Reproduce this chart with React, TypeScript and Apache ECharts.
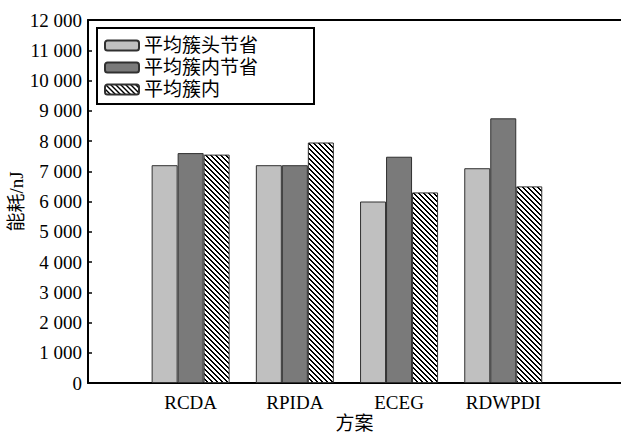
import React, { useEffect, useRef } from "react";
import * as echarts from "echarts";

const categories = ["RCDA", "RPIDA", "ECEG", "RDWPDI"];
const positions = [1, 2, 3, 4];
const seriesNames = ["平均簇头节省", "平均簇内节省", "平均簇内"];
const headSaving = [7200, 7200, 6000, 7100];
const innerSaving = [7600, 7200, 7480, 8750];
const innerAvg = [7550, 7950, 6300, 6500];

function makeHatch(): string {
  const c = document.createElement("canvas");
  const s = 5;
  c.width = s;
  c.height = s;
  const ctx = c.getContext("2d")!;
  const img = ctx.createImageData(s, s);
  for (let y = 0; y < s; y++) {
    for (let x = 0; x < s; x++) {
      const d = (((x - y) % s) + s) % s;
      const black = d === 0 || d === 1;
      const i = (y * s + x) * 4;
      const v = black ? 0 : 255;
      img.data[i] = v;
      img.data[i + 1] = v;
      img.data[i + 2] = v;
      img.data[i + 3] = 255;
    }
  }
  ctx.putImageData(img, 0, 0);
  return c.toDataURL();
}

export default function App() {
  const ref = useRef<HTMLDivElement>(null);
  useEffect(() => {
    if (!ref.current) return;
    const chart = echarts.init(ref.current, undefined, { renderer: "svg" });
    const hatch = makeHatch();
    const serif = "'Liberation Serif', 'Times New Roman', serif";
    const cjk = "'Liberation Serif', 'Noto Sans CJK SC', serif";
    const xMin = 0.015;
    const xMax = 5.13;
    const toPairs = (arr: number[]) => arr.map((v, i) => [positions[i], v]);
    const border = { borderColor: "#303030", borderWidth: 1 };
    chart.setOption({
      animation: false,
      backgroundColor: "#ffffff",
      grid: { left: 88, right: 0, top: 20, bottom: 51, containLabel: false, outerBoundsMode: "none" },
      legend: {
        orient: "vertical",
        left: 97,
        top: 28,
        padding: [7, 56, 4, 7],
        itemGap: 1,
        itemWidth: 34,
        itemHeight: 10,
        borderColor: "#000000",
        borderWidth: 2,
        backgroundColor: "#ffffff",
        data: seriesNames,
        textStyle: { fontFamily: cjk, fontSize: 19, color: "#000000", lineHeight: 21 },
      },
      xAxis: [
        {
          type: "value",
          min: xMin,
          max: xMax,
          position: "bottom",
          name: "方案",
          nameLocation: "middle",
          nameGap: 31,
          nameMoveOverlap: false,
          nameTextStyle: { fontFamily: cjk, fontSize: 19, color: "#000000" },
          axisLine: { show: true, onZero: false, lineStyle: { color: "#000000", width: 2 } },
          axisTick: { show: false },
          splitLine: { show: false },
          axisLabel: {
            customValues: positions,
            formatter: (v: number) => categories[Math.round(v) - 1] ?? "",
            fontFamily: serif,
            fontSize: 19,
            color: "#000000",
            margin: 10,
          },
        },
        {
          type: "value",
          min: xMin,
          max: xMax,
          position: "top",
          axisLine: { show: true, onZero: false, lineStyle: { color: "#000000", width: 2 } },
          axisTick: { show: false },
          axisLabel: { show: false },
          splitLine: { show: false },
        },
      ],
      yAxis: {
        type: "value",
        min: 0,
        max: 12000,
        interval: 1000,
        name: "能耗/nJ",
        nameLocation: "middle",
        nameGap: 62,
        nameMoveOverlap: false,
        nameTextStyle: { fontFamily: cjk, fontSize: 19, color: "#000000" },
        axisLine: { show: true, lineStyle: { color: "#000000", width: 2 } },
        axisTick: { show: true, inside: true, length: 4, lineStyle: { color: "#000000", width: 1.5 } },
        splitLine: { show: false },
        axisLabel: {
          formatter: (v: number) => String(v).replace(/\B(?=(\d{3})+(?!\d))/g, " "),
          fontFamily: serif,
          fontSize: 19,
          color: "#000000",
          margin: 6,
        },
      },
      series: [
        {
          name: seriesNames[0],
          type: "bar",
          xAxisIndex: 0,
          barWidth: 26,
          barGap: "0%",
          data: toPairs(headSaving),
          itemStyle: { color: "#c0c0c0", ...border },
        },
        {
          name: seriesNames[1],
          type: "bar",
          xAxisIndex: 0,
          barWidth: 26,
          barGap: "0%",
          data: toPairs(innerSaving),
          itemStyle: { color: "#7a7a7a", ...border },
        },
        {
          name: seriesNames[2],
          type: "bar",
          xAxisIndex: 0,
          barWidth: 26,
          barGap: "0%",
          data: toPairs(innerAvg),
          itemStyle: { color: { image: hatch, repeat: "repeat" }, ...border },
        },
      ],
    });
    return () => chart.dispose();
  }, []);
  return (
    <div
      ref={ref}
      style={{ position: "fixed", left: 0, top: 0, width: 621, height: 434 }}
    />
  );
}
